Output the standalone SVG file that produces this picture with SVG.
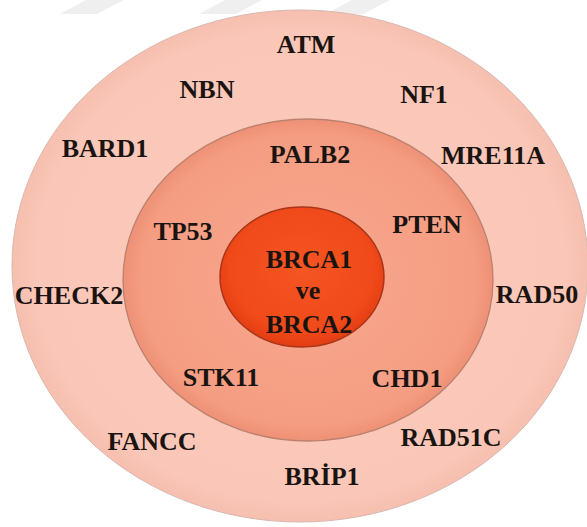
<svg xmlns="http://www.w3.org/2000/svg" width="587" height="527" viewBox="0 0 587 527">
<defs>
<radialGradient id="gOuter" cx="50%" cy="50%" r="50%">
<stop offset="0" stop-color="#fbcbbd"/>
<stop offset="0.92" stop-color="#fac6b7"/>
<stop offset="1" stop-color="#f6bfb0"/>
</radialGradient>
<radialGradient id="gMid" cx="50%" cy="50%" r="50%">
<stop offset="0" stop-color="#f8a88f"/>
<stop offset="0.9" stop-color="#f59d82"/>
<stop offset="1" stop-color="#ee9176"/>
</radialGradient>
<radialGradient id="gIn" cx="50%" cy="45%" r="55%">
<stop offset="0" stop-color="#f45522"/>
<stop offset="0.8" stop-color="#f04a1a"/>
<stop offset="1" stop-color="#e23c12"/>
</radialGradient>
</defs>
<style>
.lbl{font-family:"Liberation Serif","Times New Roman",serif;font-weight:bold;font-size:26px;fill:#1a1410;text-anchor:middle}
.wm{fill:#efefef}
</style>
<g id="watermark">
<polygon class="wm" points="86,0 124,0 97,14 60,14"/>
<polygon class="wm" points="225,0 262,0 236,14 199,14"/>
<polygon class="wm" points="352,0 390,0 363,14 326,14"/>
</g>
<g id="outer">
<ellipse cx="300" cy="266" rx="288" ry="256" fill="url(#gOuter)" stroke="#d8b8ae" stroke-width="1"/>
</g>
<g id="middle">
<ellipse cx="308" cy="280" rx="185" ry="161" fill="url(#gMid)" stroke="#bb806e" stroke-width="1.3"/>
</g>
<g id="inner">
<ellipse cx="302" cy="277" rx="82" ry="70" fill="url(#gIn)" stroke="#a8361a" stroke-width="1.5"/>
</g>
<g id="connectors"></g>
<g id="labels">
<g id="n-ATM"><text class="lbl" x="306" y="53">ATM</text></g>
<g id="n-NBN"><text class="lbl" x="207" y="98">NBN</text></g>
<g id="n-NF1"><text class="lbl" x="424" y="103">NF1</text></g>
<g id="n-BARD1"><text class="lbl" x="105" y="157">BARD1</text></g>
<g id="n-PALB2"><text class="lbl" x="310" y="163">PALB2</text></g>
<g id="n-MRE11A"><text class="lbl" x="493" y="164">MRE11A</text></g>
<g id="n-TP53"><text class="lbl" x="183" y="240">TP53</text></g>
<g id="n-PTEN"><text class="lbl" x="427" y="233">PTEN</text></g>
<g id="n-BRCA"><text class="lbl" x="309" y="268">BRCA1</text><text class="lbl" x="308" y="299">ve</text><text class="lbl" x="309" y="333">BRCA2</text></g>
<g id="n-CHECK2"><text class="lbl" x="69" y="304">CHECK2</text></g>
<g id="n-RAD50"><text class="lbl" x="537" y="303">RAD50</text></g>
<g id="n-STK11"><text class="lbl" x="221" y="386">STK11</text></g>
<g id="n-CHD1"><text class="lbl" x="407" y="387">CHD1</text></g>
<g id="n-FANCC"><text class="lbl" x="152" y="450">FANCC</text></g>
<g id="n-RAD51C"><text class="lbl" x="451" y="446">RAD51C</text></g>
<g id="n-BRIP1"><text class="lbl" x="322" y="485">BRİP1</text></g>
</g>
</svg>
